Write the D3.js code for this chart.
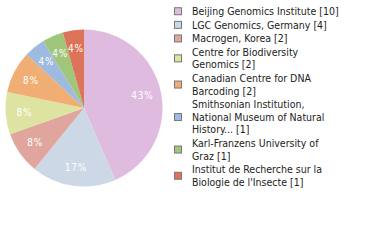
<!DOCTYPE html>
<html><head><meta charset="utf-8">
<script src="https://cdn.jsdelivr.net/npm/d3@7"></script>
<style>
html,body{margin:0;padding:0;background:#fff;}
svg{display:block;}
text{font-family:"DejaVu Sans Condensed","DejaVu Sans",sans-serif;font-stretch:condensed;}
</style></head>
<body>
<svg id="chart" width="380" height="240"></svg>
<script>
const categories = [
  "Beijing Genomics Institute",
  "LGC Genomics, Germany",
  "Macrogen, Korea",
  "Centre for Biodiversity Genomics",
  "Canadian Centre for DNA Barcoding",
  "Smithsonian Institution, National Museum of Natural History...",
  "Karl-Franzens University of Graz",
  "Institut de Recherche sur la Biologie de l'Insecte"
];
const values = [10, 4, 2, 2, 2, 1, 1, 1];
const legendLines = [
  ["Beijing Genomics Institute [10]"],
  ["LGC Genomics, Germany [4]"],
  ["Macrogen, Korea [2]"],
  ["Centre for Biodiversity", "Genomics [2]"],
  ["Canadian Centre for DNA", "Barcoding [2]"],
  ["Smithsonian Institution,", "National Museum of Natural", "History... [1]"],
  ["Karl-Franzens University of", "Graz [1]"],
  ["Institut de Recherche sur la", "Biologie de l'Insecte [1]"]
];
const colors = ["#dfbbdf","#ccd8e6","#e0a69e","#dde3a0","#f0ae74","#9ebbdf","#9fc67b","#dd7358"];

const svg = d3.select("#chart");
const cx = 84, cy = 108, r = 78.5;
const total = d3.sum(values);

const pie = d3.pie().sort(null).value(d => d);
const arcs = pie(values);
const arc = d3.arc().innerRadius(0).outerRadius(r);
const labelArc = d3.arc().innerRadius(r * 0.76).outerRadius(r * 0.76);

const g = svg.append("g").attr("transform", `translate(${cx},${cy})`);
g.selectAll("path").data(arcs).enter().append("path")
  .attr("d", arc)
  .attr("fill", (d, i) => colors[i]);

g.selectAll("text.pct").data(arcs).enter().append("text")
  .attr("class", "pct")
  .attr("transform", d => `translate(${labelArc.centroid(d)})`)
  .attr("text-anchor", "middle")
  .attr("dy", "0.35em")
  .attr("fill", "#fff")
  .attr("font-size", "10px")
  .attr("letter-spacing", "0.8px")
  .text(d => Math.floor(d.data / total * 100) + "%");

// legend
const lineH = 12.6, gap = 1.0, firstBaseline = 15;
const lg = svg.append("g");
let y = firstBaseline;
legendLines.forEach((lines, i) => {
  const top = y;
  lines.forEach((ln, j) => {
    lg.append("text")
      .attr("x", 192)
      .attr("y", y + j * lineH)
      .attr("font-size", "10.5px")
      .attr("fill", "#222")
      .text(ln);
  });
  const lastBase = y + (lines.length - 1) * lineH;
  const mid = (top - 7.5 + lastBase) / 2;
  lg.append("rect")
    .attr("x", 174.5).attr("y", mid - 3.5)
    .attr("width", 7).attr("height", 7)
    .attr("fill", colors[i])
    .attr("stroke", "#777").attr("stroke-width", 1);
  y = lastBase + lineH + gap;
});
</script>
</body></html>
